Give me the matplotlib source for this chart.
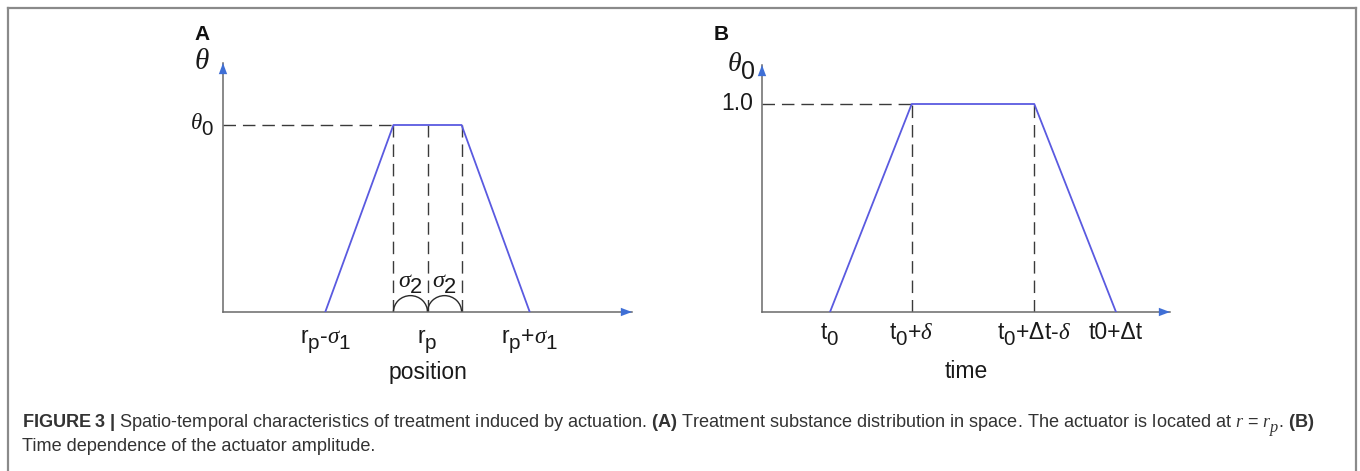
import matplotlib
matplotlib.use("Agg")
import matplotlib.pyplot as plt
import matplotlib._mathtext as _mt
from matplotlib.patches import Arc
from matplotlib.lines import Line2D

# Larger, lower subscripts, as in the figure's label style
_mt.SHRINK_FACTOR = 0.9
_mt.FontConstantsBase.sub1 = 0.62

plt.rcParams["font.family"] = ["Liberation Sans", "DejaVu Sans"]
plt.rcParams["mathtext.fontset"] = "custom"
plt.rcParams["mathtext.rm"] = "Liberation Sans"
plt.rcParams["mathtext.sf"] = "Liberation Sans"
plt.rcParams["mathtext.bf"] = "Liberation Sans:bold"
plt.rcParams["mathtext.it"] = "Liberation Serif:italic"

# ---- Panel A: spatial profile (units of sigma_2, centred on r_p) ----
pos_x = [-3, -1, 0, 1, 3]
pos_theta = [0, 1, 1, 1, 0]
pos_ticks = [-3, 0, 3]
pos_tick_labels = [r"r$_\mathrm{p}$-$\sigma_\mathrm{1}$",
                   r"r$_\mathrm{p}$",
                   r"r$_\mathrm{p}$+$\sigma_\mathrm{1}$"]
pos_guides = [-1, 0, 1]

# ---- Panel B: time profile (t0 = 0, delta = 2, dt = 7) ----
time_x = [0, 2, 5, 7]
time_theta = [0, 1, 1, 0]
time_ticks = [0, 2, 5, 7]
time_tick_labels = [r"t$_\mathrm{0}$",
                    r"t$_\mathrm{0}$+$\delta$",
                    r"t$_\mathrm{0}$+Δt-$\delta$",
                    "t0+Δt"]
time_guides = [2, 5]

W, H = 1360, 471
fig = plt.figure(figsize=(W / 100, H / 100), dpi=100)

AX_COL = "#6a6a6a"
ARROW_COL = "#3f6fd6"
LINE_COL = "#5a5ae0"
DASH_COL = "#3a3a3a"
TXT = "#1a1a1a"
FS = 16.5


def px_axes(x0, x1, y_top, y_bot):
    return fig.add_axes([x0 / W, 1 - y_bot / H, (x1 - x0) / W, (y_bot - y_top) / H])


def dress(ax, xmin, xmax, ymax):
    ax.set_xlim(xmin, xmax)
    ax.set_ylim(0, ymax)
    ax.axis("off")
    # axes with blue arrow heads
    ax.plot([xmin, xmax], [0, 0], color=AX_COL, lw=1.1, clip_on=False, zorder=2)
    ax.plot([xmin, xmin], [0, ymax], color=AX_COL, lw=1.1, clip_on=False, zorder=2)
    ax.annotate("", xy=(xmax, 0), xytext=(-11, 0), textcoords="offset pixels",
                arrowprops=dict(arrowstyle="-|>,head_length=0.8,head_width=0.3",
                                color=ARROW_COL, lw=0.01, shrinkA=0, shrinkB=0),
                annotation_clip=False, zorder=3)
    ax.annotate("", xy=(xmin, ymax), xytext=(0, -11), textcoords="offset pixels",
                arrowprops=dict(arrowstyle="-|>,head_length=0.8,head_width=0.3",
                                color=ARROW_COL, lw=0.01, shrinkA=0, shrinkB=0),
                annotation_clip=False, zorder=3)


def xlabels(ax, ticks, labels, off_px):
    for t, lab in zip(ticks, labels):
        ax.annotate(lab, xy=(t, 0), xytext=(0, -off_px), textcoords="offset pixels",
                    ha="center", va="baseline", fontsize=FS, color=TXT,
                    annotation_clip=False)


# ---------------- Panel A ----------------
axA = px_axes(223, 632, 63, 312)
dress(axA, -6, 6, (312 - 63) / 187)
axA.plot(pos_x, pos_theta, color=LINE_COL, lw=1.3, zorder=4)
dash = dict(color=DASH_COL, lw=1.0, dashes=(9, 5), zorder=1)
axA.plot([-6, pos_guides[0]], [1, 1], **dash)
for g in pos_guides:
    axA.plot([g, g], [0, 1], **dash)
for a, b in zip(pos_guides[:-1], pos_guides[1:]):
    axA.add_patch(Arc(((a + b) / 2, 0), b - a, 0.175, theta1=0, theta2=180,
                      color="#2a2a2a", lw=1.0))
    axA.annotate(r"$\sigma_\mathrm{2}$", xy=((a + b) / 2, 0.135), ha="center",
                 va="baseline", fontsize=FS + 1, color=TXT)
xlabels(axA, pos_ticks, pos_tick_labels, 31)
axA.annotate("position", xy=(0, 0), xytext=(0, -67), textcoords="offset pixels",
             ha="center", va="baseline", fontsize=FS, color=TXT, annotation_clip=False)
axA.annotate(r"$\theta_\mathrm{0}$", xy=(-6, 1), xytext=(-9, 0), textcoords="offset pixels",
             ha="right", va="center", fontsize=FS, color=TXT, annotation_clip=False)
axA.annotate(r"$\theta$", xy=(-6, (312 - 63) / 187), xytext=(-21, 2),
             textcoords="offset pixels", ha="center", va="center", fontsize=21,
             color=TXT, annotation_clip=False)
fig.text(194 / W, 1 - 35 / H, "A", fontsize=15, fontweight="bold", va="center", color="#111")

# ---------------- Panel B ----------------
bx0, bx1 = 830, 1116
scale_b = (bx1 - bx0) / 7
axB = px_axes(762, 1170, 65, 312)
dress(axB, (762 - bx0) / scale_b, (1170 - bx0) / scale_b, (312 - 65) / 208)
bxmin = (762 - bx0) / scale_b
axB.plot(time_x, time_theta, color=LINE_COL, lw=1.3, zorder=4)
axB.plot([bxmin, time_guides[0]], [1, 1], **dash)
for g in time_guides:
    axB.plot([g, g], [0, 1], **dash)
xlabels(axB, time_ticks, time_tick_labels, 27)
axB.annotate("time", xy=(0.5, 0), xycoords="axes fraction", xytext=(0, -66),
             textcoords="offset pixels", ha="center", va="baseline", fontsize=FS,
             color=TXT, annotation_clip=False)
axB.annotate("1.0", xy=(bxmin, 1), xytext=(-9, 0), textcoords="offset pixels",
             ha="right", va="center", fontsize=FS, color=TXT, annotation_clip=False)
axB.annotate(r"$\theta_\mathrm{0}$", xy=(bxmin, (312 - 65) / 208), xytext=(-21, -1),
             textcoords="offset pixels", ha="center", va="center", fontsize=20,
             color=TXT, annotation_clip=False)
fig.text(714 / W, 1 - 35 / H, "B", fontsize=15, fontweight="bold", va="center", color="#111")

# ---------------- Frame and caption ----------------
frame = dict(color="#8a8a8a", lw=1.6, transform=fig.transFigure)
fig.add_artist(Line2D([7.5 / W, 7.5 / W], [0, 1 - 7.5 / H], **frame))
fig.add_artist(Line2D([7.5 / W, 1355.5 / W], [1 - 7.5 / H, 1 - 7.5 / H], **frame))
fig.add_artist(Line2D([1355.5 / W, 1355.5 / W], [0, 1 - 7.5 / H], **frame))

cap1 = (r"$\mathbf{FIGURE\ 3\ |}$ Spatio-temporal characteristics of treatment induced by "
        r"actuation. $\mathbf{(A)}$ Treatment substance distribution in space. "
        r"The actuator is located at $r\,=\,r_p$. $\mathbf{(B)}$")
cap2 = "Time dependence of the actuator amplitude."
fig.text(22 / W, 1 - 427 / H, cap1, fontsize=13.1, color="#333333", va="baseline")
fig.text(22 / W, 1 - 451 / H, cap2, fontsize=13.1, color="#333333", va="baseline")

fig.savefig("out.png", dpi=100)
